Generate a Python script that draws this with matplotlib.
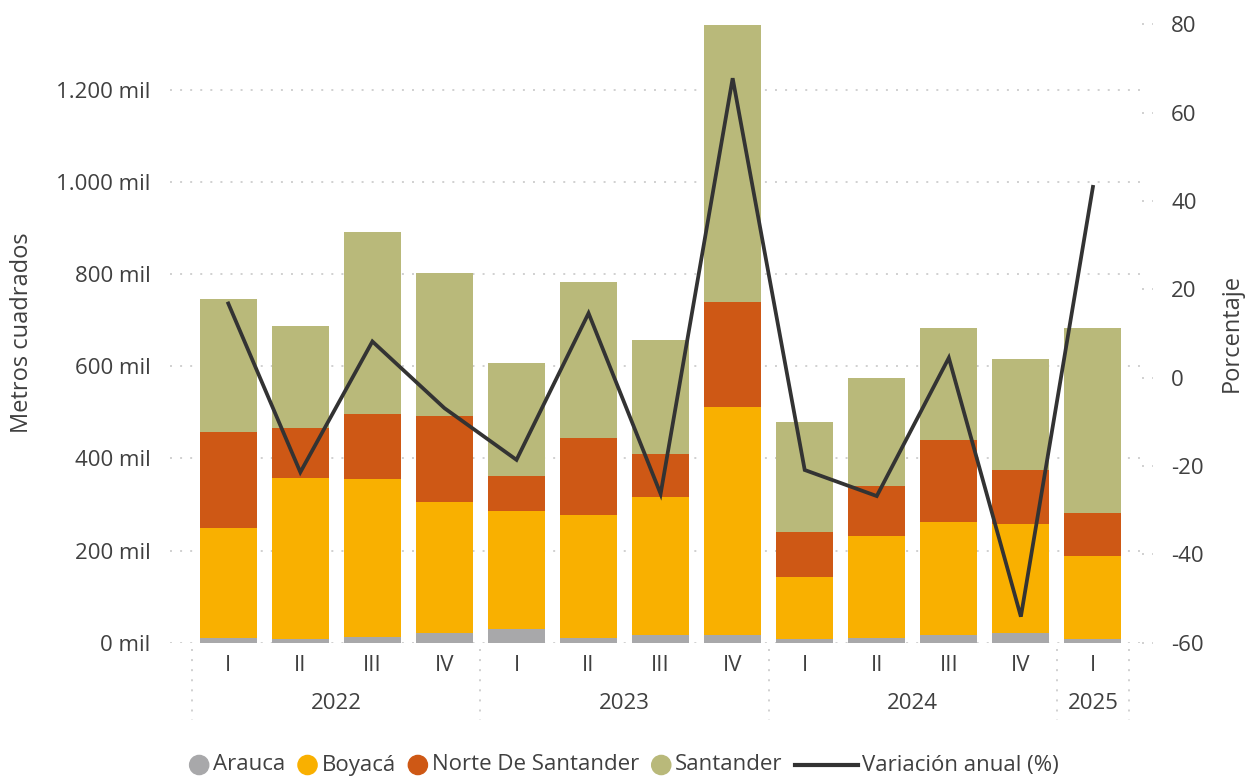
import numpy as np
from matplotlib import pyplot as plt
from matplotlib import transforms
from matplotlib.lines import Line2D
from matplotlib.patches import Circle
from matplotlib.offsetbox import DrawingArea, TextArea, HPacker, AnchoredOffsetbox

plt.rcParams["font.family"] = ["Open Sans", "DejaVu Sans"]
plt.rcParams["axes.unicode_minus"] = False

# Data (miles de metros cuadrados)
quarters = ["I", "II", "III", "IV", "I", "II", "III", "IV", "I", "II", "III", "IV", "I"]
years = ["2022", "2023", "2024", "2025"]
year_counts = [4, 4, 4, 1]
arauca = [11, 8, 12, 21, 30, 11, 17, 17, 7, 11, 17, 21, 7]
boyaca = [238, 349, 343, 284, 256, 266, 299, 494, 136, 221, 245, 237, 182]
norte = [208, 109, 141, 187, 76, 167, 93, 228, 98, 108, 178, 118, 93]
santander = [289, 221, 396, 311, 245, 339, 248, 603, 239, 235, 243, 241, 402]
variacion = [16.8, -21.4, 8.2, -6.9, -18.6, 14.6, -26.3, 67.8, -20.9, -26.8, 4.5, -54.1, 43.2]

series = [("Arauca", arauca, "#A8A8AA"),
          ("Boyacá", boyaca, "#F9B000"),
          ("Norte De Santander", norte, "#CE5815"),
          ("Santander", santander, "#B9B97A")]
line_color = "#333333"
text_color = "#404040"
grid_color = "#C4C4C4"

W, H = 1246, 778
fig = plt.figure(figsize=(W / 100, H / 100), dpi=100)
ax = fig.add_axes([170 / W, (H - 642.7) / H, 972 / W, 622.7 / H])
ax2 = ax.twinx()

x = np.arange(len(quarters))
bottom = np.zeros(len(quarters))
for name, vals, col in series:
    ax.bar(x, vals, width=0.79, bottom=bottom, color=col, zorder=2)
    bottom += np.array(vals)

ax2.plot(x, variacion, color=line_color, lw=2.7, solid_joinstyle="miter", zorder=3)

ax.set_xlim(-0.809, 12.681)
ax.set_ylim(0, 1352)
ax2.set_ylim(-60, 80.98)

yt = np.arange(0, 1201, 200)
ax.set_yticks(yt)
ax.set_yticklabels([f"{v:,.0f}".replace(",", ".") + " mil" for v in yt])
ax2.set_yticks(np.arange(-60, 81, 20))
ax2.set_yticklabels([f"{v:d}" for v in np.arange(-60, 81, 20)])

ax.set_xticks(x)
ax.set_xticklabels(quarters)

for a in (ax, ax2):
    for s in a.spines.values():
        s.set_visible(False)
ax.tick_params(axis="y", length=0, pad=14, labelsize=16, labelcolor=text_color)
ax.tick_params(axis="x", length=0, pad=9, labelsize=16, labelcolor=text_color)
ax2.tick_params(axis="y", length=0, pad=21, labelsize=16, labelcolor=text_color)

ax.set_axisbelow(True)
ax.yaxis.grid(True, color=grid_color, lw=1.1, linestyle=(0, (1.3, 5.3)))

# short dotted ticks for right axis
tr2 = transforms.blended_transform_factory(ax2.transAxes, ax2.transData)
for v in np.arange(-60, 81, 20):
    ax2.plot([1.0, 1.011], [v, v], transform=tr2, color=grid_color, lw=1.1,
             linestyle=(0, (1.3, 5.3)), clip_on=False)

# year separators and labels
trx = transforms.blended_transform_factory(ax.transData, ax.transAxes)
edges = np.concatenate([[0], np.cumsum(year_counts)]) - 0.5
for e in edges:
    ax.plot([e, e], [-0.01, -0.124], transform=trx, color=grid_color, lw=1.1,
            linestyle=(0, (1.3, 5.3)), clip_on=False)
for yr, a0, a1 in zip(years, edges[:-1], edges[1:]):
    ax.annotate(yr, xy=((a0 + a1) / 2, 0), xycoords=trx, xytext=(0, -61 * 0.72),
                textcoords="offset points", ha="center", va="center",
                fontsize=16, color=text_color)

fig.text(22 / W, (H - 333) / H, "Metros cuadrados", rotation=90, ha="center", va="center",
         fontsize=17, color=text_color)
fig.text(1232 / W, (H - 333) / H, "Porcentaje", rotation=90, ha="center", va="center",
         fontsize=17, color=text_color)

# legend
items = []
for name, vals, col in series:
    da = DrawingArea(14, 14, 0, 0)
    da.add_artist(Circle((7, 7), 6.9, color=col))
    items.append(HPacker(children=[da, TextArea(name, textprops=dict(fontsize=16, color=text_color))],
                         sep=3, align="center"))
da = DrawingArea(45, 14, 0, 0)
da.add_artist(Line2D([0, 45], [7, 7], color=line_color, lw=3))
items.append(HPacker(children=[da, TextArea("Variación anual (%)", textprops=dict(fontsize=16, color=text_color))],
                     sep=3, align="center"))
leg = AnchoredOffsetbox(loc="center", child=HPacker(children=items, sep=9, align="center"),
                        frameon=False, bbox_to_anchor=(624 / W, (H - 765) / H),
                        bbox_transform=fig.transFigure, pad=0, borderpad=0)
fig.add_artist(leg)

fig.savefig("out.png", dpi=100)
